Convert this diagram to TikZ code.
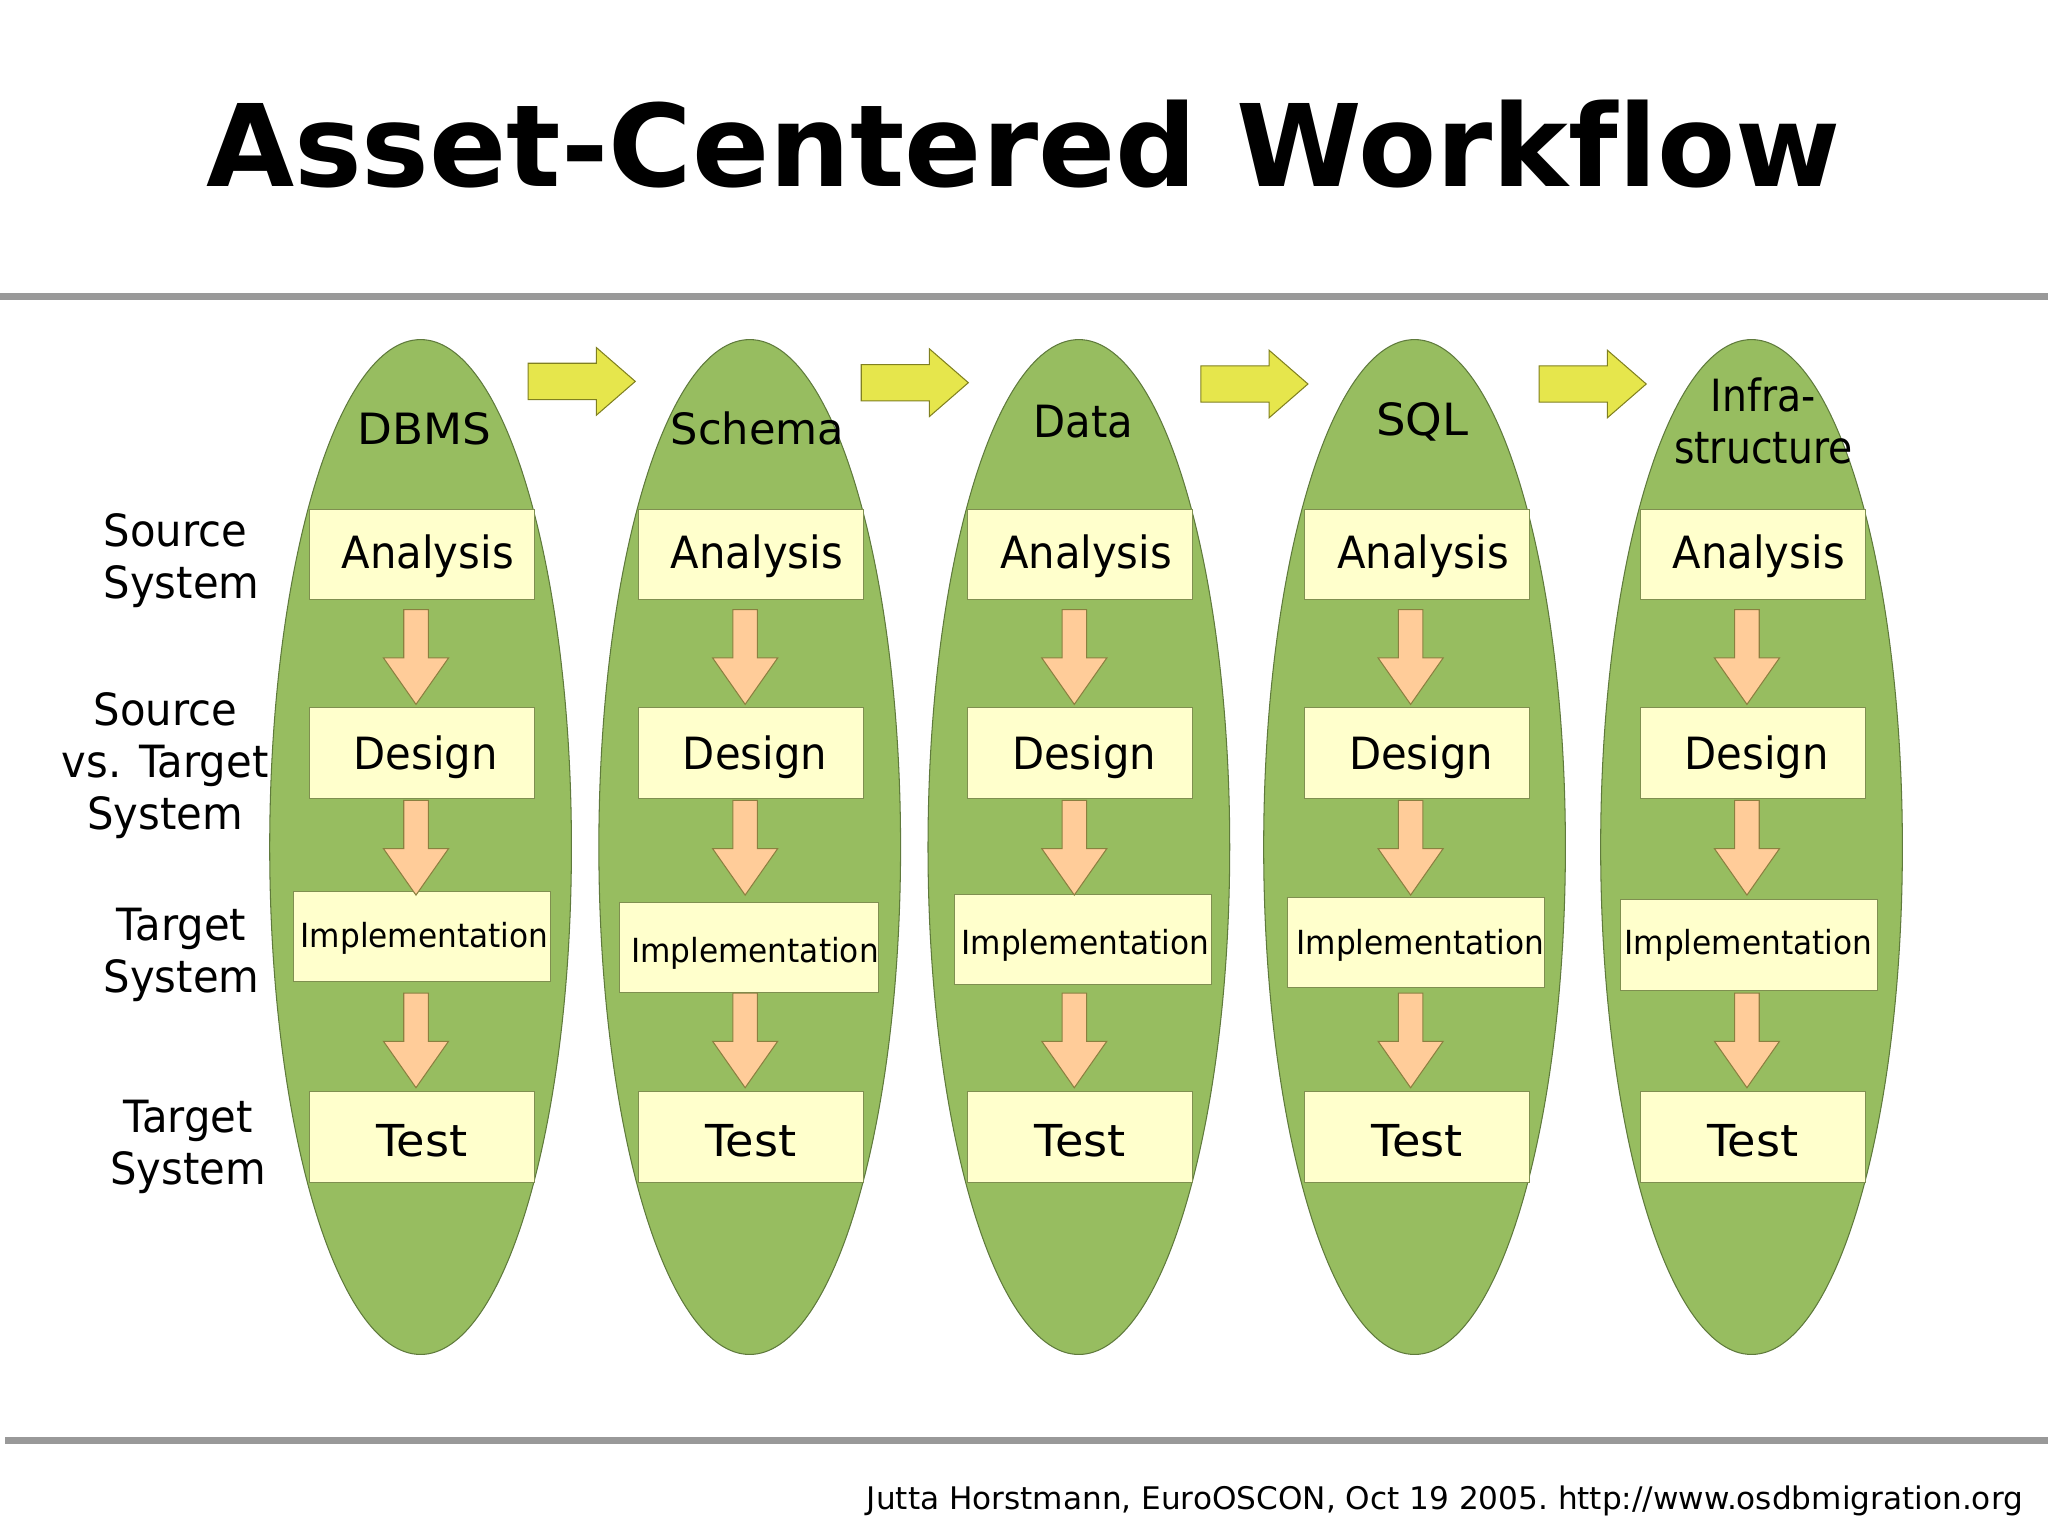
\documentclass[tikz,border=0pt]{standalone}
\usepackage{fontspec}
\setmainfont[Ligatures=NoCommon]{DejaVu Sans}
\newfontfamily\tallfont[FakeStretch=0.94,Ligatures=NoCommon]{DejaVu Sans}
\newfontfamily\slimfont[FakeStretch=0.885,Ligatures=NoCommon]{DejaVu Sans}
\newfontfamily\widefont[FakeStretch=1.05,Ligatures=NoCommon]{DejaVu Sans}
\usetikzlibrary{shapes.geometric, shapes.arrows, positioning}

\definecolor{leafgreen}{HTML}{97BD60}
\definecolor{leafedge}{HTML}{5F7A3C}
\definecolor{boxcream}{HTML}{FFFFCC}
\definecolor{boxedge}{HTML}{7F8F50}
\definecolor{peach}{HTML}{FFCC99}
\definecolor{peachedge}{HTML}{8A8040}
\definecolor{lemon}{HTML}{E6E64C}
\definecolor{lemonedge}{HTML}{808020}
\definecolor{rulegray}{HTML}{999999}

\tikzset{
    leaf/.style={ellipse, draw=leafedge, fill=leafgreen, line width=0.8pt, inner sep=0,
        minimum width=231pt, minimum height=777pt},
    stagebox/.style={rectangle, draw=boxedge, fill=boxcream, line width=0.8pt, inner sep=0,
        minimum width=172pt, minimum height=69pt, text depth=0pt,
        font=\tallfont\fontsize{34}{40}\selectfont},
    implbox/.style={stagebox, minimum width=197pt, font=\tallfont\fontsize{25.4}{30}\selectfont},
    downarrow/.style={single arrow, draw=peachedge, fill=peach, line width=0.8pt,
        inner xsep=0, inner ysep=9pt,
        minimum width=49pt, minimum height=72.5pt, single arrow head extend=15.5pt,
        single arrow tip angle=70, rotate=-90, anchor=tip},
    nextarrow/.style={single arrow, draw=lemonedge, fill=lemon, line width=0.8pt,
        inner xsep=0, inner ysep=13.5pt,
        minimum width=51pt, minimum height=82pt, single arrow head extend=12pt,
        single arrow tip angle=82, anchor=tip},
    sidelabel/.style={align=center, font=\tallfont\fontsize{34}{40}\selectfont},
    rulebar/.style={draw=rulegray, line width=5pt}
}

\begin{document}
\begin{tikzpicture}[x=1pt,y=-1pt]
\useasboundingbox (0,0) rectangle (1568,1177);

\node[font=\fontsize{87.2}{100}\bfseries\selectfont, anchor=base] (title) at (783.5,143) {Asset-Centered Workflow};
\coordinate (topa) at (0,227);
\coordinate (topb) at (1568,227);
\draw[rulebar] (topa) -- (topb);
\coordinate (bota) at (4,1103);
\coordinate (botb) at (1568,1103);
\draw[rulebar] (bota) -- (botb);
\node[font=\fontsize{23.84}{30}\selectfont\frenchspacing, anchor=base east, inner sep=0] (footer) at (1549,1156)
    {Jutta Horstmann, EuroOSCON, Oct 19 2005. http://www.osdbmigration.org};

\foreach \i/\ex/\bx/\ax/\imx/\imy/\ish/\ith in {1/322/323/318.5/323/717/4/16.6, 2/574/575/570.5/573.5/725.5/9/22.6,
        3/826/827/822.5/829/719.5/4/22.6, 4/1083/1085/1080/1084/721.5/7/18.6, 5/1341/1342/1337.5/1339/723.5/-1/14.6} {
    \node[leaf] (leaf\i) at (\ex,648.5) {};
    \node[stagebox, text height=21pt] (analysis\i) at (\bx,424.5) {\hspace*{9pt}Analysis};
    \node[stagebox, text height=25pt] (design\i) at (\bx,576.5) {\hspace*{6pt}Design};
    \node[implbox, text height=\ith pt] (impl\i) at (\imx,\imy) {\hspace*{\ish pt}Implementation};
    \node[stagebox, text height=30pt, font=\widefont\fontsize{33.7}{40}\selectfont] (test\i) at (\bx,870.5) {Test};
    \node[downarrow] (downa\i) at (\ax,540) {};
    \node[downarrow] (downb\i) at (\ax,686) {};
    \node[downarrow] (downc\i) at (\ax,833.5) {};
}

\foreach \i/\tx/\ty in {1/487/292, 2/742/293, 3/1002/294, 4/1261/294} {
    \node[nextarrow] (next\i) at (\tx,\ty) {};
}

% column heads
\node[sidelabel, font=\widefont\fontsize{33}{40}\selectfont] (dbms) at (325,328) {DBMS};
\node[sidelabel, font=\fontsize{33}{40}\selectfont] (schema) at (580,328) {Schema};
\node[sidelabel] (data) at (829.5,323) {Data};
\node[sidelabel, font=\widefont\fontsize{34}{40}\selectfont] (sql) at (1089,323) {SQL};
\node[sidelabel, font=\slimfont\fontsize{34}{40}\selectfont] (infra) at (1350,322) {Infra-\\structure};

% row labels
\node[sidelabel, align=left] (srcsys) at (139,429) {Source\\System};
\node[sidelabel] (srcvs) at (126.5,586) {Source\\vs. Target\\System};
\node[sidelabel] (tgtsysa) at (139,731) {Target\\System};
\node[sidelabel] (tgtsysb) at (144,878) {Target\\System};
\end{tikzpicture}
\end{document}
